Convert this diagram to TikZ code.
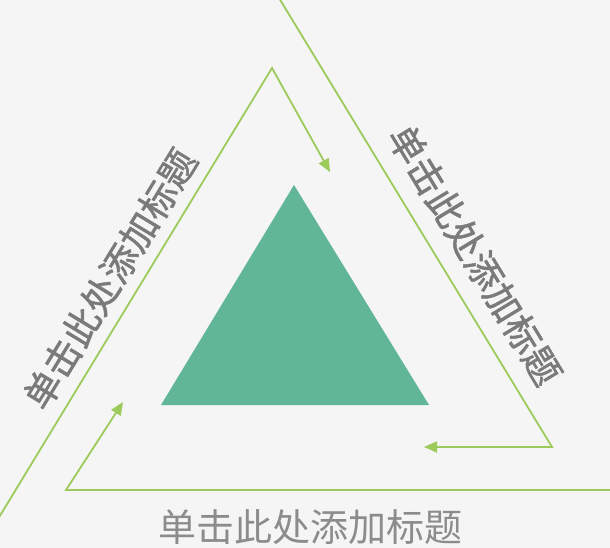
\documentclass[tikz,border=0pt]{standalone}
\usepackage{fontspec}
\newfontfamily\cjk{Noto Sans CJK SC}
\newfontfamily\cjkmed{Noto Sans CJK SC}[FakeBold=1.3]
\usetikzlibrary{arrows.meta}
\definecolor{bgc}{HTML}{F5F5F5}
\definecolor{linec}{HTML}{9CCB5C}
\definecolor{trif}{HTML}{62B698}
\definecolor{txtc}{HTML}{7A7A7A}
\definecolor{txtb}{HTML}{8C8C8C}
\tikzset{
  flow/.style={draw=linec, line width=1.8pt, line join=miter},
  flowarrow/.style={flow, -{Triangle[length=13pt,width=11pt]}},
  sidelabel/.style={font=\cjkmed\fontsize{37}{37}\selectfont, text=txtc, inner sep=0pt},
  baselabel/.style={font=\cjk\fontsize{38}{38}\selectfont, text=txtb, inner sep=0pt},
}
\begin{document}
\begin{tikzpicture}[x=1pt,y=-1pt]
  \fill[bgc] (0,0) rectangle (610,548);
  \useasboundingbox (0,0) rectangle (610,548);
  % central triangle
  \coordinate (P1) at (294,185);
  \coordinate (P2) at (161,405);
  \coordinate (P3) at (429,405);
  \fill[trif] (P1) -- (P2) -- (P3) -- cycle;
  % left path
  \coordinate (L0) at (-2,519);
  \coordinate (A) at (272,68);
  \coordinate (T1) at (330,172);
  \draw[flowarrow] (L0) -- (A) -- (T1);
  % right path
  \coordinate (R0) at (279,-2);
  \coordinate (C2) at (552,447);
  \coordinate (T2) at (424,447);
  \draw[flowarrow] (R0) -- (C2) -- (T2);
  % bottom path
  \coordinate (B0) at (612,490);
  \coordinate (C3) at (66,490);
  \coordinate (T3) at (123,402);
  \draw[flowarrow] (B0) -- (C3) -- (T3);
  % labels
  \node[sidelabel, rotate=58.7] (lt) at (110,279) {单击此处添加标题};
  \node[sidelabel, rotate=-58.7] (rt) at (475,255) {单击此处添加标题};
  \node[baselabel] (bt) at (310,527) {单击此处添加标题};
\end{tikzpicture}
\end{document}
